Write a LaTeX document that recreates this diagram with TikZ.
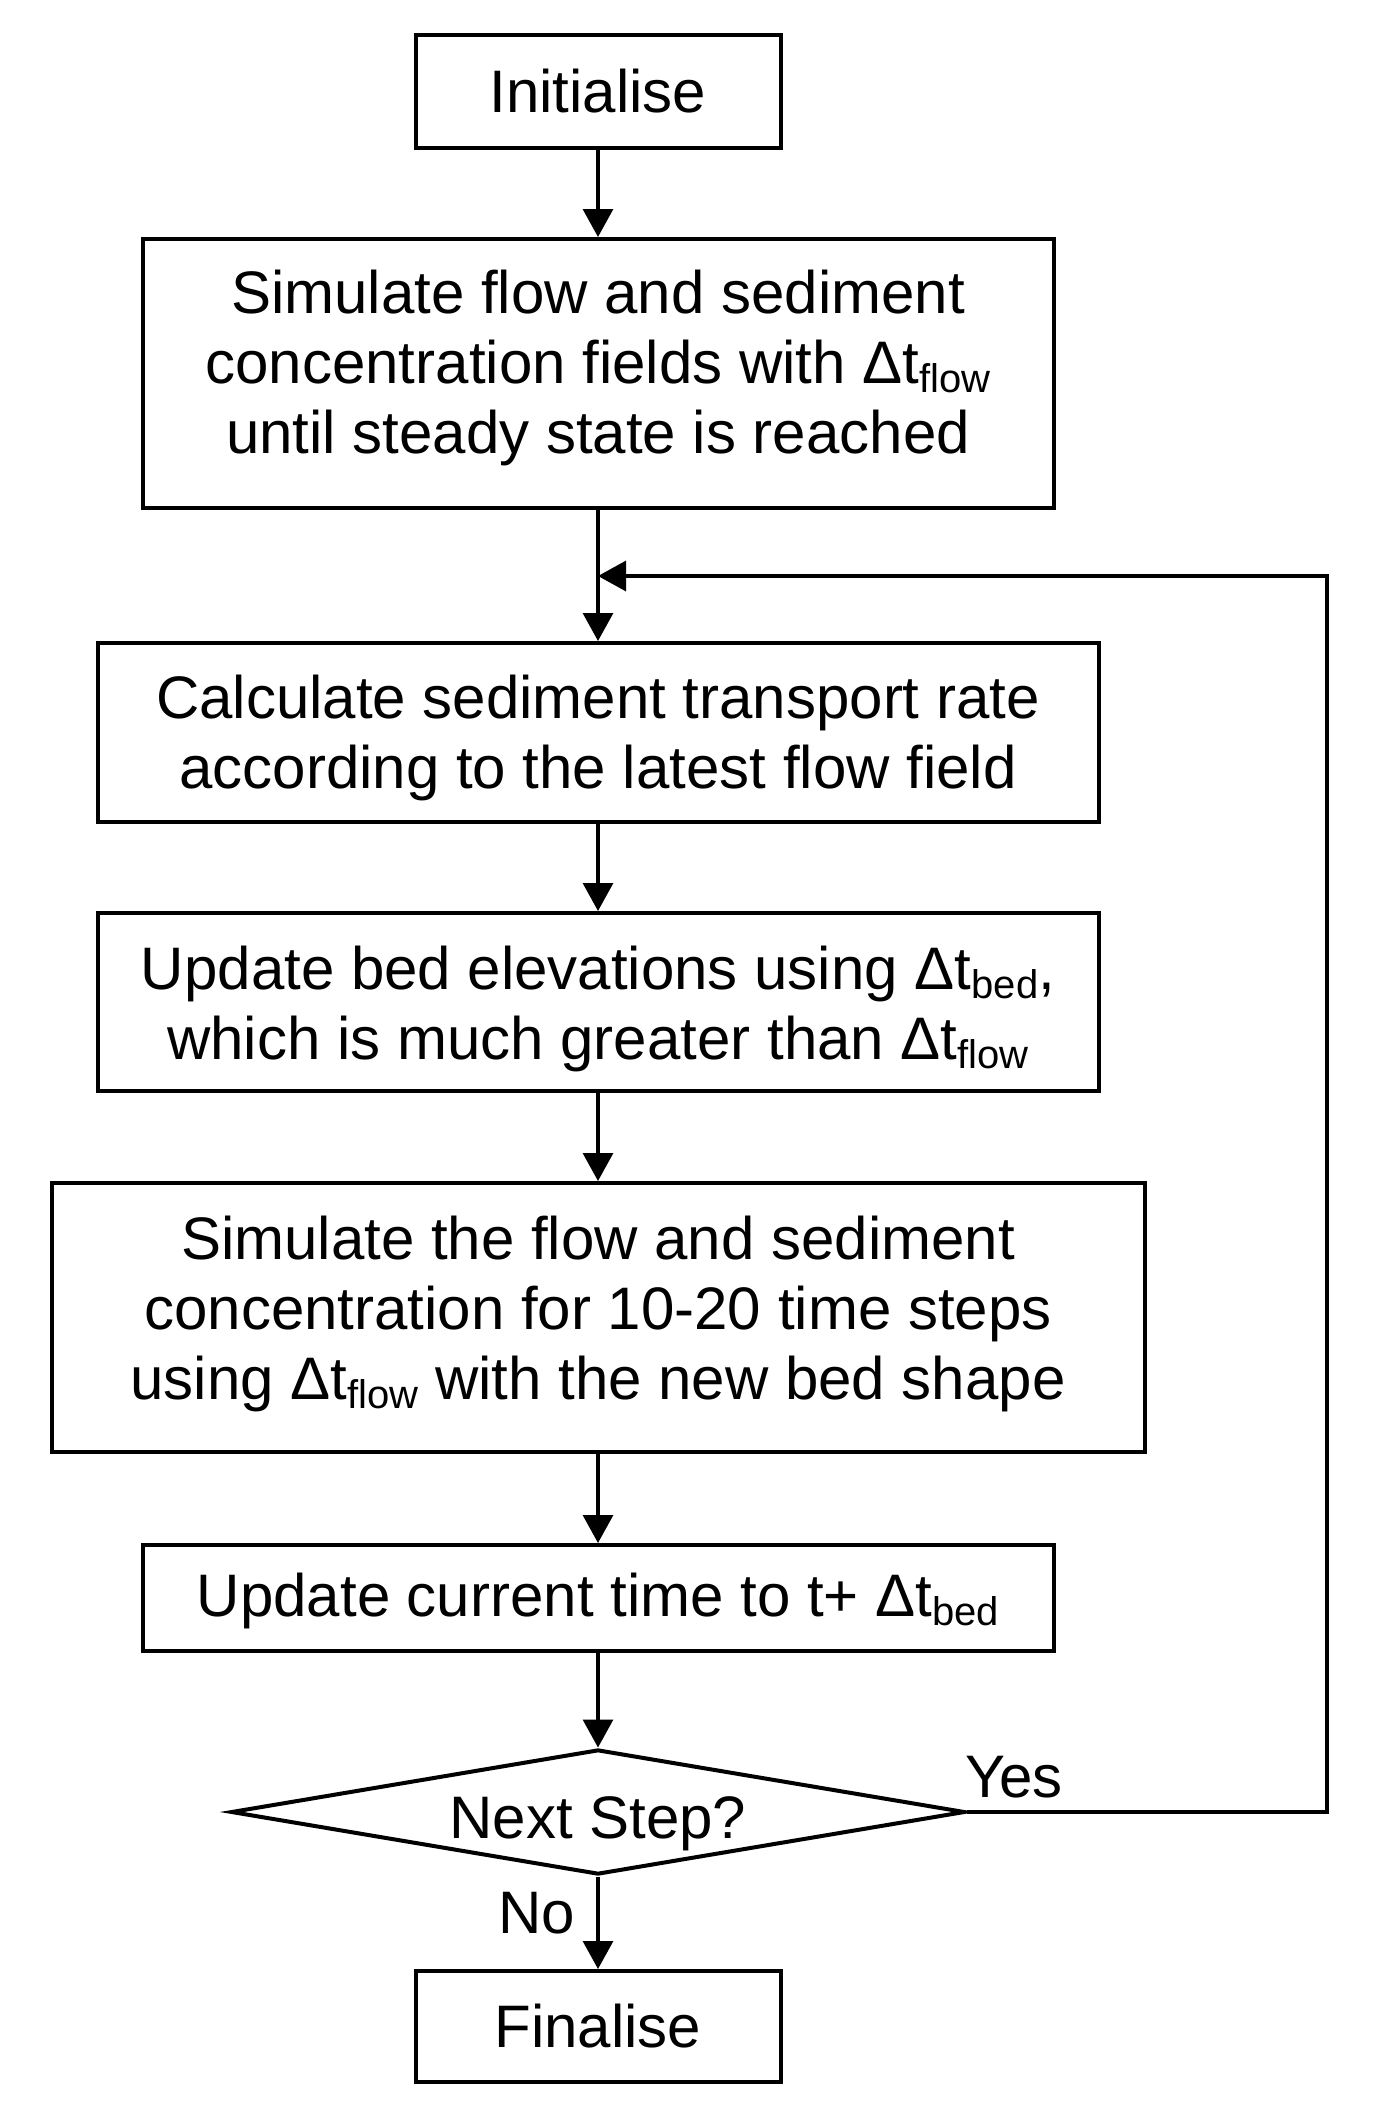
\documentclass[tikz,border=0pt]{standalone}
\usepackage{fontspec}
\setmainfont{Liberation Sans}
\usetikzlibrary{shapes.geometric,arrows.meta}
\newcommand\subtxt[1]{\raisebox{-0.15em}{\fontsize{20}{20}\selectfont #1}}
\newcommand\shiftdown[2]{\raisebox{-#1}[\height][\depth]{\begin{tabular}{@{}c@{}}#2\end{tabular}}}
\begin{document}
\begin{tikzpicture}[x=0.5pt,y=-0.5pt,
  box/.style={draw,line width=2pt,align=center,inner sep=0pt,font=\fontsize{30}{35}\selectfont},
  lbl/.style={inner sep=0pt,font=\fontsize{30}{35}\selectfont},
  conn/.style={line width=1.6pt,-{Triangle[length=14pt,width=15pt]}}]
\useasboundingbox (0,0) rectangle (1372,2116);
\node[box,minimum width=182.5pt,minimum height=56.5pt] (init) at (598,91.5) {Initialise};
\node[box,minimum width=455.5pt,minimum height=134.5pt] (sim1) at (598,373.5)
  {\shiftdown{-2pt}{Simulate flow and sediment\\concentration fields with Δt\subtxt{flow}\\until steady state is reached}};
\node[box,minimum width=500.5pt,minimum height=89.5pt] (calc) at (598,732.5)
  {\shiftdown{3.5pt}{Calculate sediment transport rate\\according to the latest flow field}};
\node[box,minimum width=500.5pt,minimum height=89pt] (bed) at (598,1002)
  {\shiftdown{4pt}{Update bed elevations using Δt\subtxt{bed},\\which is much greater than Δt\subtxt{flow}}};
\node[box,minimum width=546.5pt,minimum height=134.5pt] (sim2) at (598,1317.5)
  {\shiftdown{-1pt}{Simulate the flow and sediment\\concentration for 10-20 time steps\\using Δt\subtxt{flow} with the new bed shape}};
\node[box,minimum width=455.5pt,minimum height=53pt] (upd) at (598,1598)
  {\shiftdown{2pt}{Update current time to t+ Δt\subtxt{bed}}};
\node[box,diamond,aspect=5.87,minimum width=367pt,minimum height=62.5pt] (dec) at (598,1812)
  {\raisebox{-6pt}[\height][\depth]{Next Step?}};
\node[box,minimum width=182.5pt,minimum height=55.5pt] (fin) at (598,2026.5) {Finalise};
\coordinate (join) at (598,576);
\coordinate (rc) at (1327,1812);
\coordinate (rt) at (1327,576);
\draw[conn] (init) -- (sim1);
\draw[conn] (sim1) -- (calc);
\draw[conn] (calc) -- (bed);
\draw[conn] (bed) -- (sim2);
\draw[conn] (sim2) -- (upd);
\draw[conn] (upd) -- (dec);
\draw[conn] (dec) -- (fin);
\draw[conn] (dec.east) -- (rc) -- (rt) -- (join);
\node[lbl] (yes) at (1014,1777) {Yes};
\node[lbl] (no) at (537,1913) {No};
\end{tikzpicture}
\end{document}
